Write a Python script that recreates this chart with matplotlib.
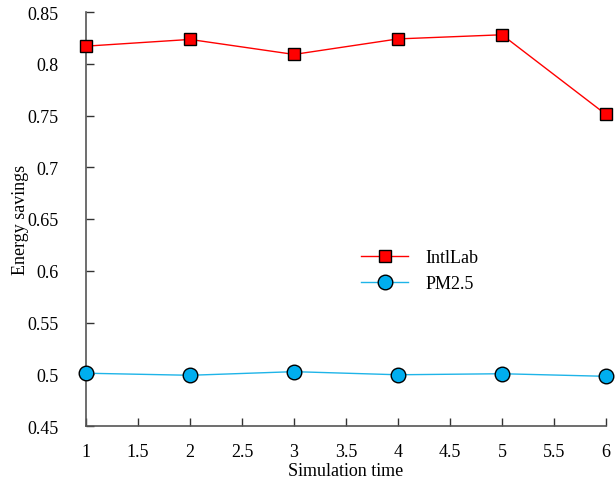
import matplotlib
matplotlib.use("Agg")
import matplotlib.pyplot as plt

x = [1, 2, 3, 4, 5, 6]
intllab = [0.817, 0.8235, 0.809, 0.824, 0.828, 0.751]
pm25 = [0.501, 0.499, 0.5025, 0.4995, 0.5005, 0.4980]
xticks = [1, 1.5, 2, 2.5, 3, 3.5, 4, 4.5, 5, 5.5, 6]
xticklabels = ["1", "1.5", "2", "2.5", "3", "3.5", "4", "4.5", "5", "5.5", "6"]
yticks = [0.45, 0.5, 0.55, 0.6, 0.65, 0.7, 0.75, 0.8, 0.85]
yticklabels = ["0.45", "0.5", "0.55", "0.6", "0.65", "0.7", "0.75", "0.8", "0.85"]

plt.rcParams['font.family'] = ['Liberation Serif', 'DejaVu Serif']

fig = plt.figure(figsize=(6.16, 4.81), dpi=100)
ax = fig.add_axes([86/616, 1-427/481, 520/616, 414/481])

ax.plot(x, intllab, color='#FF0000', lw=1, marker='s', markersize=8.5,
        markerfacecolor='#FF0000', markeredgecolor='black', markeredgewidth=1,
        label='IntlLab', clip_on=False, zorder=3)
ax.plot(x, pm25, color='#1EB4E8', lw=1, marker='o', markersize=10.5,
        markerfacecolor='#00AEEF', markeredgecolor='black', markeredgewidth=1,
        label='PM2.5', clip_on=False, zorder=3)

ax.set_xlim(1, 6)
ax.set_ylim(0.45, 0.85)
ax.set_xticks(xticks)
ax.set_xticklabels(xticklabels)
ax.set_yticks(yticks)
ax.set_yticklabels(yticklabels)

for s in ['top', 'right']:
    ax.spines[s].set_visible(False)
for s in ['left', 'bottom']:
    ax.spines[s].set_color('#555555')
    ax.spines[s].set_linewidth(1.2)

ax.tick_params(axis='both', direction='in', length=6, width=1, color='#333333',
               labelsize=13)
ax.tick_params(axis='x', pad=12)
ax.tick_params(axis='y', pad=20)

ax.set_xlabel('Simulation time', fontsize=13)
ax.set_ylabel('Energy savings', fontsize=13)
ax.xaxis.set_label_coords(0.5, -0.087)
ax.yaxis.set_label_coords(-0.109, 0.5)

ax.legend(loc='center left', bbox_to_anchor=(0.512, 0.375), frameon=False,
          fontsize=13, handlelength=2.6, handletextpad=0.95, borderpad=0,
          labelspacing=0.5)

fig.savefig('out.png', dpi=100)
